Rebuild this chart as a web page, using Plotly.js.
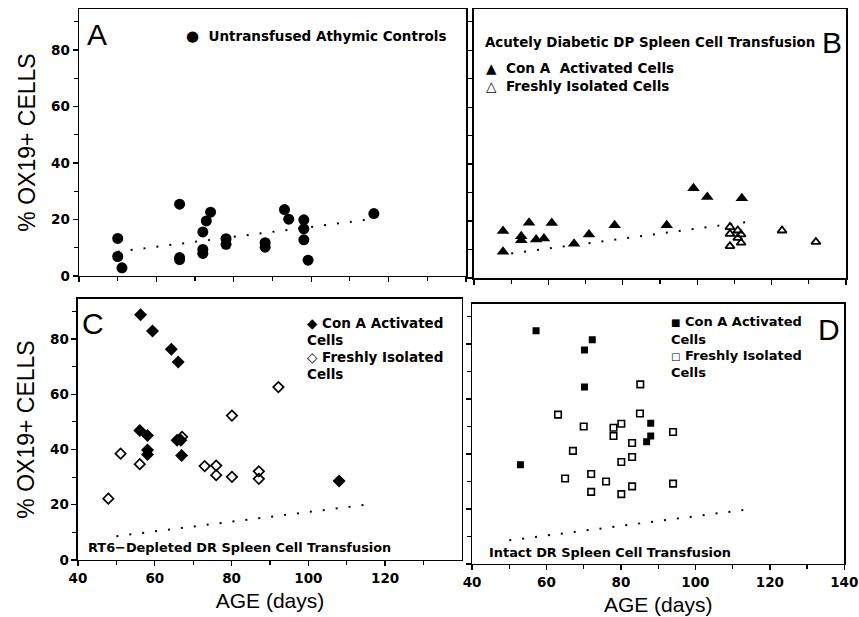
<!DOCTYPE html>
<html>
<head>
<meta charset="utf-8">
<script src="https://cdn.plot.ly/plotly-3.0.1.min.js"></script>
<style>html,body{margin:0;padding:0;background:#fff;}#chart{width:859px;height:617px;}</style>
</head>
<body>
<div id="chart"></div>
<script>
// Panel A: Untransfused athymic controls
const aAge = [50.0, 50.0, 51.1, 66.0, 66.0, 66.0, 72.0, 72.0, 72.0, 72.9, 74.0, 78.0, 78.0, 88.1, 88.1, 93.1, 94.2, 98.1, 98.1, 98.1, 99.2, 116.2];
const aPct = [13.3, 6.9, 2.9, 25.4, 6.5, 5.8, 15.6, 9.4, 8.0, 19.5, 22.6, 13.2, 11.2, 11.8, 10.2, 23.5, 20.1, 19.9, 16.7, 12.8, 5.6, 22.1];

// Panel B: Acutely diabetic DP spleen cell transfusion
const bConAge = [47.8, 47.8, 52.7, 52.7, 54.8, 56.7, 58.8, 60.9, 66.9, 70.9, 77.8, 91.8, 99.0, 102.7, 112.0];
const bConPct = [16.5, 9.2, 14.7, 13.3, 19.4, 13.5, 13.9, 19.3, 12.0, 15.3, 18.5, 18.5, 31.5, 28.5, 28.0];
const bFreshAge = [108.8, 108.8, 108.8, 110.9, 110.9, 111.8, 111.8, 122.8, 131.9];
const bFreshPct = [17.9, 15.5, 11.2, 16.7, 14.1, 15.3, 12.4, 16.7, 12.7];

// Panel C: RT6-depleted DR spleen cell transfusion
const cConAge = [56.3, 59.4, 64.3, 66.1, 56.1, 58.1, 58.1, 58.1, 65.8, 66.8, 67.0, 108.0];
const cConPct = [88.8, 82.9, 76.3, 71.7, 46.9, 45.1, 39.8, 38.2, 43.4, 43.4, 37.8, 28.6];
const cFreshAge = [47.9, 51.1, 56.1, 67.1, 73.0, 76.0, 76.0, 80.1, 80.1, 87.1, 87.1, 92.2];
const cFreshPct = [22.2, 38.5, 34.7, 44.6, 34.0, 34.2, 30.7, 52.3, 30.1, 32.1, 29.4, 62.6];

// Panel D: Intact DR spleen cell transfusion
const dConAge = [57.2, 72.3, 70.2, 70.2, 53.0, 88.0, 88.0, 86.9];
const dConPct = [84.8, 81.5, 77.8, 64.3, 36.1, 51.2, 46.5, 44.4];
const dFreshAge = [85.2, 63.1, 85.1, 70.0, 80.1, 78.0, 78.0, 83.0, 94.0, 67.1, 83.0, 80.1, 72.0, 65.0, 76.0, 94.0, 83.0, 72.0, 80.1];
const dFreshPct = [65.3, 54.3, 54.7, 50.0, 51.0, 49.5, 46.5, 44.0, 48.0, 41.1, 38.9, 37.1, 32.7, 31.1, 30.0, 29.2, 28.2, 26.2, 25.4];

// Control regression line (shown in every panel)
const trendAge = [50, 115];
const trendPct = [8.6, 20.0];

// Tick labels
const xTicksAll = [40, 60, 80, 100, 120, 140];
const xTicksBottomLeft = [40, 60, 80, 100, 120];
const yTicks = [0, 20, 40, 60, 80];

const BOLD = 'DejaVu Sans';
const PLAIN = 'Liberation Sans';

function trend(xa, ya) {
  return {x: trendAge, y: trendPct, xaxis: xa, yaxis: ya, mode: 'lines', hoverinfo: 'skip',
    line: {color: '#000', width: 2, dash: '2px,11px'}, showlegend: false};
}
function pts(x, y, xa, ya, symbol, size, lw) {
  return {x: x, y: y, xaxis: xa, yaxis: ya, mode: 'markers', showlegend: false,
    marker: {symbol: symbol, size: size, color: '#000', line: {color: '#000', width: lw || 0}}};
}

const traces = [
  trend('x', 'y'),
  pts(aAge, aPct, 'x', 'y', 'circle', 11),
  trend('x2', 'y2'),
  pts(bConAge, bConPct, 'x2', 'y2', 'triangle-up', 11),
  pts(bFreshAge, bFreshPct, 'x2', 'y2', 'triangle-up-open', 8, 1.8),
  trend('x3', 'y3'),
  pts(cConAge, cConPct, 'x3', 'y3', 'diamond', 10),
  pts(cFreshAge, cFreshPct, 'x3', 'y3', 'diamond-open', 8, 1.7),
  trend('x4', 'y4'),
  pts(dConAge, dConPct, 'x4', 'y4', 'square', 7),
  pts(dFreshAge, dFreshPct, 'x4', 'y4', 'square-open', 6.5, 1.6)
];

const tickFont = {family: BOLD, size: 13.5, color: '#000', weight: 700};
const boldText = v => '<b>' + v + '</b>';
function xax(domain, anchor, labels, title) {
  const ax = {domain: domain, anchor: anchor, range: [40, 140.02], showgrid: false, zeroline: false,
    showline: true, mirror: true, linecolor: '#000', linewidth: 1.5,
    ticks: 'outside', ticklen: 5, tickwidth: 1.3, tickcolor: '#000',
    tickmode: 'array', tickvals: labels ? labels : xTicksAll,
    ticktext: (labels ? labels : xTicksAll).map(boldText),
    showticklabels: !!labels, tickfont: tickFont, ticklabeloverflow: 'allow',
    minor: {tickmode: 'linear', tick0: 50, dtick: 20, ticks: 'outside', ticklen: 4, tickwidth: 1.2, tickcolor: '#000'}};
  if (title) ax.title = {text: title, font: {family: PLAIN, size: 21, color: '#000'}, standoff: 8};
  return ax;
}
function yax(domain, anchor, showLabels, title) {
  const ay = {domain: domain, anchor: anchor, range: [0, 94.5], showgrid: false, zeroline: false,
    showline: true, mirror: true, linecolor: '#000', linewidth: 1.5,
    ticks: 'outside', ticklen: 5, tickwidth: 1.3, tickcolor: '#000',
    tickmode: 'array', tickvals: yTicks, ticktext: yTicks.map(boldText),
    showticklabels: showLabels, tickfont: tickFont, ticklabeloverflow: 'allow',
    minor: {tickmode: 'linear', tick0: 10, dtick: 20, ticks: 'outside', ticklen: 4, tickwidth: 1.2, tickcolor: '#000'}};
  if (title) ay.title = {text: title, font: {family: PLAIN, size: 23, color: '#000'}, standoff: 9};
  return ay;
}

function ann(xref, yref, x, y, text, size, family, bold, xanchor) {
  return {xref: xref, yref: yref, x: x, y: y, text: bold ? '<b>' + text + '</b>' : text, showarrow: false,
    xanchor: xanchor || 'left', yanchor: 'middle', align: 'left',
    font: {family: family, size: size, color: '#000'}};
}

const layout = {
  width: 859, height: 617,
  margin: {l: 0, r: 0, t: 0, b: 0},
  paper_bgcolor: '#fff', plot_bgcolor: '#fff',
  showlegend: false,
  xaxis: xax([0.0920, 0.5425], 'y', null),
  yaxis: yax([0.5527, 0.9854], 'x', true, '% OX19+ CELLS'),
  xaxis2: xax([0.5518, 0.9850], 'y2', null),
  yaxis2: yax([0.5494, 0.9854], 'x2', false),
  xaxis3: xax([0.0908, 0.5378], 'y3', xTicksBottomLeft, 'AGE (days)'),
  yaxis3: yax([0.0924, 0.5154], 'x3', true, '% OX19+ CELLS'),
  xaxis4: xax([0.5495, 0.9830], 'y4', xTicksAll, 'AGE (days)'),
  yaxis4: yax([0.0859, 0.5073], 'x4', false),
  annotations: [
    ann('x domain', 'y domain', 0.0465, 0.905, 'A', 30, PLAIN, false, 'center'),
    ann('x domain', 'y domain', 0.272, 0.899, '<span style="font-size:15px">●</span>  Untransfused Athymic Controls', 13.5, BOLD, true),
    ann('x2 domain', 'y2 domain', 0.024, 0.877, 'Acutely Diabetic DP Spleen Cell Transfusion', 13.4, BOLD, true),
    ann('x2 domain', 'y2 domain', 0.962, 0.874, 'B', 30, PLAIN, false, 'center'),
    ann('x2 domain', 'y2 domain', 0.027, 0.749, '▲  Con A  Activated Cells<br>△  Freshly Isolated Cells', 13.6, BOLD, true),
    ann('x3 domain', 'y3 domain', 0.039, 0.905, 'C', 30, PLAIN, false, 'center'),
    ann('x3 domain', 'y3 domain', 0.591, 0.907, '◆ Con A Activated', 13.5, BOLD, true),
    ann('x3 domain', 'y3 domain', 0.591, 0.842, 'Cells', 13.5, BOLD, true),
    ann('x3 domain', 'y3 domain', 0.591, 0.777, '◇ Freshly Isolated', 13.5, BOLD, true),
    ann('x3 domain', 'y3 domain', 0.591, 0.712, 'Cells', 13.5, BOLD, true),
    ann('x3 domain', 'y3 domain', 0.021, 0.046, 'RT6−Depleted DR Spleen Cell Transfusion', 12.9, BOLD, true),
    ann('x4 domain', 'y4 domain', 0.958, 0.900, 'D', 30, PLAIN, false, 'center'),
    ann('x4 domain', 'y4 domain', 0.530, 0.931, '<span style="font-size:10px">■</span> Con A Activated', 13, BOLD, true),
    ann('x4 domain', 'y4 domain', 0.530, 0.865, 'Cells', 13, BOLD, true),
    ann('x4 domain', 'y4 domain', 0.530, 0.800, '<span style="font-size:10px">□</span> Freshly Isolated', 13, BOLD, true),
    ann('x4 domain', 'y4 domain', 0.530, 0.735, 'Cells', 13, BOLD, true),
    ann('x4 domain', 'y4 domain', 0.04, 0.046, 'Intact DR Spleen Cell Transfusion', 12.9, BOLD, true)
  ]
};

Plotly.newPlot('chart', traces, layout, {displayModeBar: false, staticPlot: true});
</script>
</body>
</html>
